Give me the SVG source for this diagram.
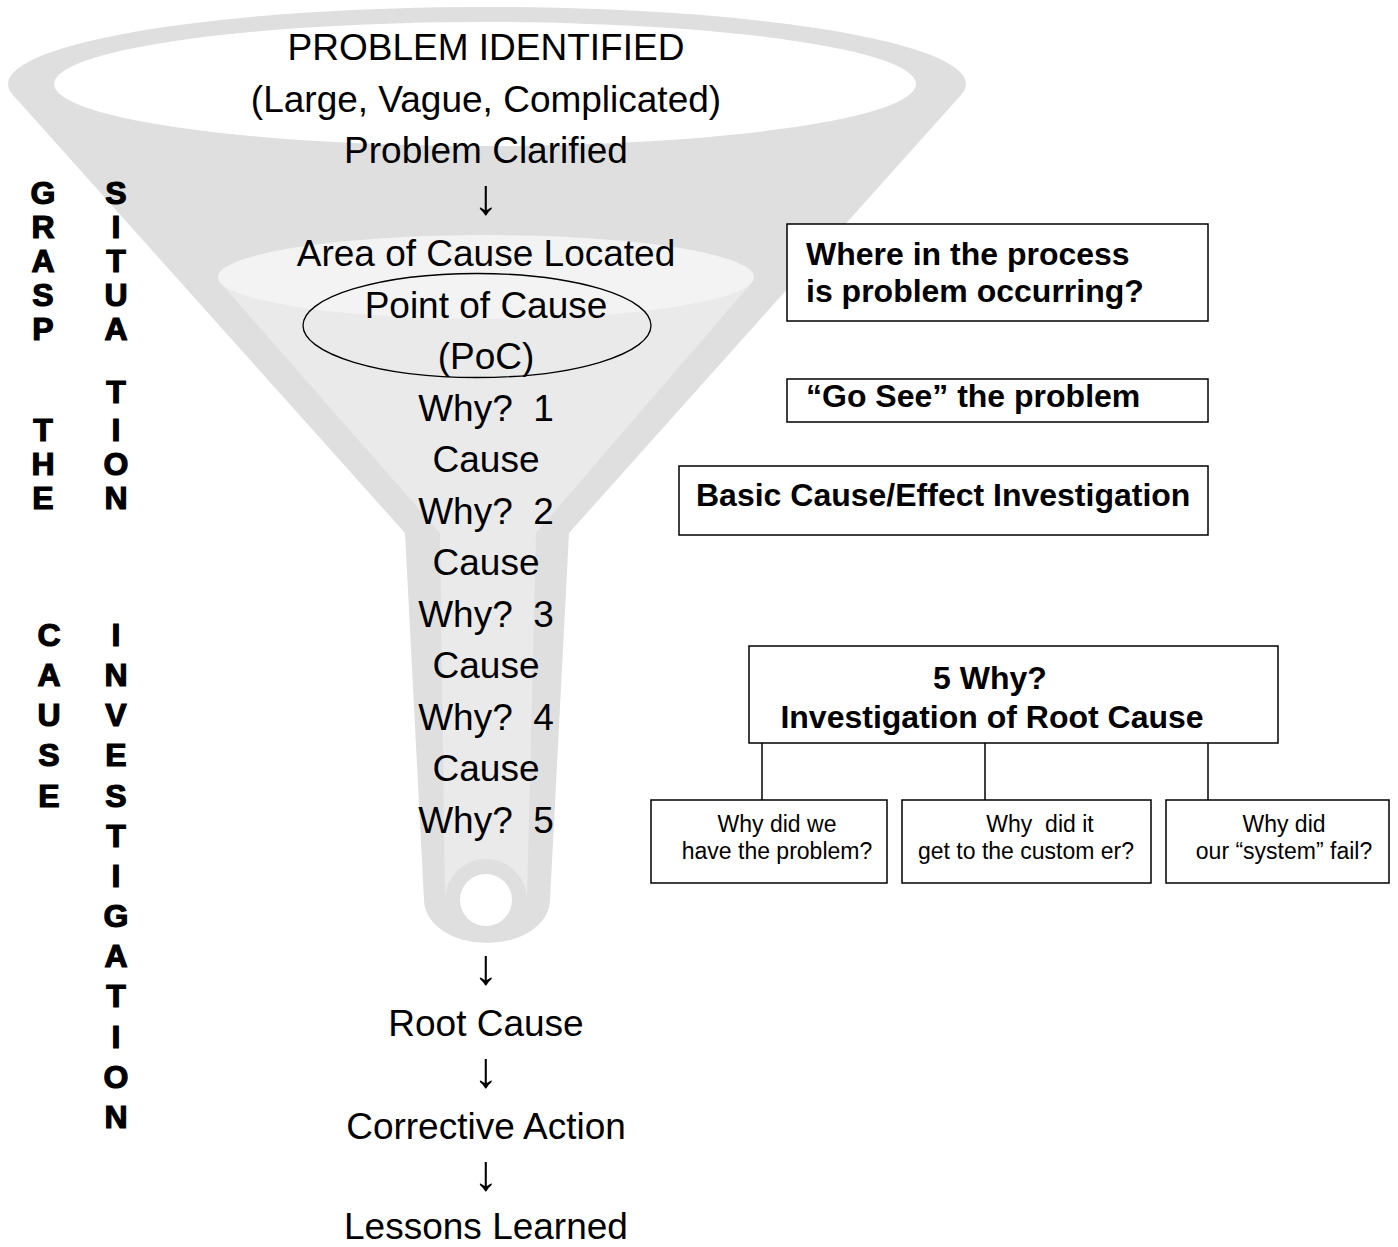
<svg xmlns="http://www.w3.org/2000/svg" width="1398" height="1247" viewBox="0 0 1398 1247">
<style>
.main{font-family:"Liberation Sans",Arial,sans-serif;font-size:37px;fill:#000;text-anchor:middle;white-space:pre}
.arrow{font-family:"Liberation Sans",Arial,sans-serif;font-size:50px;fill:#000;text-anchor:middle}
.vert{font-family:"Liberation Sans",Arial,sans-serif;font-size:32px;font-weight:bold;fill:#000;stroke:#000;stroke-width:1.2;text-anchor:middle}
.bold{font-family:"Liberation Sans",Arial,sans-serif;font-size:32px;font-weight:bold;fill:#000;white-space:pre}
.small{font-family:"Liberation Sans",Arial,sans-serif;font-size:23px;fill:#000;text-anchor:middle;white-space:pre}
.box{fill:#fff;stroke:#000;stroke-width:1.5}
.conn{stroke:#000;stroke-width:1.5;fill:none}
</style>
<rect width="1398" height="1247" fill="#fff"/>
<g id="funnel">
<ellipse cx="487" cy="84" rx="479" ry="77" fill="#dfdfdf"/>
<path d="M 13 95 L 405 533 L 424 900 A 63 43 0 0 0 550 900 L 569 533 L 961 95 Z" fill="#dfdfdf"/>
<ellipse cx="485" cy="84" rx="431" ry="62" fill="#fff"/>
<path d="M 218 280 L 440 533 L 445 900 L 527 900 L 536 533 L 754 280 Z" fill="#eaeaea"/>
<ellipse cx="486" cy="277" rx="268" ry="42" fill="#f3f3f3"/>
<circle cx="486" cy="900" r="41" fill="#dfdfdf"/>
<circle cx="486" cy="900" r="26" fill="#fff"/>
</g>
<g id="poc-ellipse">
<ellipse cx="477" cy="325.5" rx="174" ry="52" fill="none" stroke="#000" stroke-width="1.3"/>
</g>
<g id="funnel-text">
<text class="main" x="486" y="60">PROBLEM IDENTIFIED</text>
<text class="main" x="486" y="111.5">(Large, Vague, Complicated)</text>
<text class="main" x="486" y="163">Problem Clarified</text>
<text class="arrow" x="486" y="214">↓</text>
<text class="main" x="486" y="266">Area of Cause Located</text>
<text class="main" x="486" y="317.5">Point of Cause</text>
<text class="main" x="486" y="369">(PoC)</text>
<text class="main" x="486" y="420.5">Why?  1</text>
<text class="main" x="486" y="472">Cause</text>
<text class="main" x="486" y="523.5">Why?  2</text>
<text class="main" x="486" y="575">Cause</text>
<text class="main" x="486" y="626.5">Why?  3</text>
<text class="main" x="486" y="678">Cause</text>
<text class="main" x="486" y="729.5">Why?  4</text>
<text class="main" x="486" y="781">Cause</text>
<text class="main" x="486" y="832.5">Why?  5</text>
<text class="arrow" x="486" y="984">↓</text>
<text class="main" x="486" y="1036">Root Cause</text>
<text class="arrow" x="486" y="1087">↓</text>
<text class="main" x="486" y="1139">Corrective Action</text>
<text class="arrow" x="486" y="1190">↓</text>
<text class="main" x="486" y="1239">Lessons Learned</text>
</g>
<g id="grasp-the">
<text class="vert"><tspan x="43" y="203.5">G</tspan><tspan x="43" y="237.5">R</tspan><tspan x="43" y="271.5">A</tspan><tspan x="43" y="305.5">S</tspan><tspan x="43" y="339.5">P</tspan><tspan x="43" y="440.5">T</tspan><tspan x="43" y="474.5">H</tspan><tspan x="43" y="508.5">E</tspan></text>
</g>
<g id="situation">
<text class="vert"><tspan x="116" y="203.5">S</tspan><tspan x="116" y="237.5">I</tspan><tspan x="116" y="271.5">T</tspan><tspan x="116" y="305.5">U</tspan><tspan x="116" y="339.5">A</tspan><tspan x="116" y="402.5">T</tspan><tspan x="116" y="440.5">I</tspan><tspan x="116" y="474.5">O</tspan><tspan x="116" y="508.5">N</tspan></text>
</g>
<g id="cause">
<text class="vert"><tspan x="49" y="645.5">C</tspan><tspan x="49" y="685.5">A</tspan><tspan x="49" y="726">U</tspan><tspan x="49" y="766">S</tspan><tspan x="49" y="806.5">E</tspan></text>
</g>
<g id="investigation">
<text class="vert"><tspan x="116" y="645.5">I</tspan><tspan x="116" y="685.5">N</tspan><tspan x="116" y="726">V</tspan><tspan x="116" y="766">E</tspan><tspan x="116" y="806.5">S</tspan><tspan x="116" y="846.5">T</tspan><tspan x="116" y="886.5">I</tspan><tspan x="116" y="926.5">G</tspan><tspan x="116" y="967">A</tspan><tspan x="116" y="1007">T</tspan><tspan x="116" y="1047.5">I</tspan><tspan x="116" y="1087.5">O</tspan><tspan x="116" y="1127.5">N</tspan></text>
</g>
<g id="box-where">
<rect class="box" x="787" y="224" width="421" height="97"/>
<text class="bold" x="806" y="265">Where in the process</text>
<text class="bold" x="806" y="302">is problem occurring?</text>
</g>
<g id="box-gosee">
<rect class="box" x="787" y="379" width="421" height="43"/>
<text class="bold" x="806" y="407">“Go See” the problem</text>
</g>
<g id="box-basic">
<rect class="box" x="679" y="466" width="529" height="69"/>
<text class="bold" x="696" y="506">Basic Cause/Effect Investigation</text>
</g>
<g id="box-5why">
<rect class="box" x="749" y="646" width="529" height="97"/>
<text class="bold" x="990" y="689" text-anchor="middle">5 Why?</text>
<text class="bold" x="992" y="728" text-anchor="middle">Investigation of Root Cause</text>
</g>
<g id="connectors">
<line class="conn" x1="762" y1="743" x2="762" y2="800"/>
<line class="conn" x1="985" y1="743" x2="985" y2="800"/>
<line class="conn" x1="1208" y1="743" x2="1208" y2="800"/>
</g>
<g id="box-why-we">
<rect class="box" x="651" y="800" width="236" height="83"/>
<text class="small" x="777" y="832">Why did we</text>
<text class="small" x="777" y="859">have the problem?</text>
</g>
<g id="box-why-customer">
<rect class="box" x="902" y="800" width="249" height="83"/>
<text class="small" x="1040" y="832">Why  did it</text>
<text class="small" x="1026" y="859">get to the custom er?</text>
</g>
<g id="box-why-system">
<rect class="box" x="1166" y="800" width="223" height="83"/>
<text class="small" x="1284" y="832">Why did</text>
<text class="small" x="1284" y="859">our “system” fail?</text>
</g>
</svg>
